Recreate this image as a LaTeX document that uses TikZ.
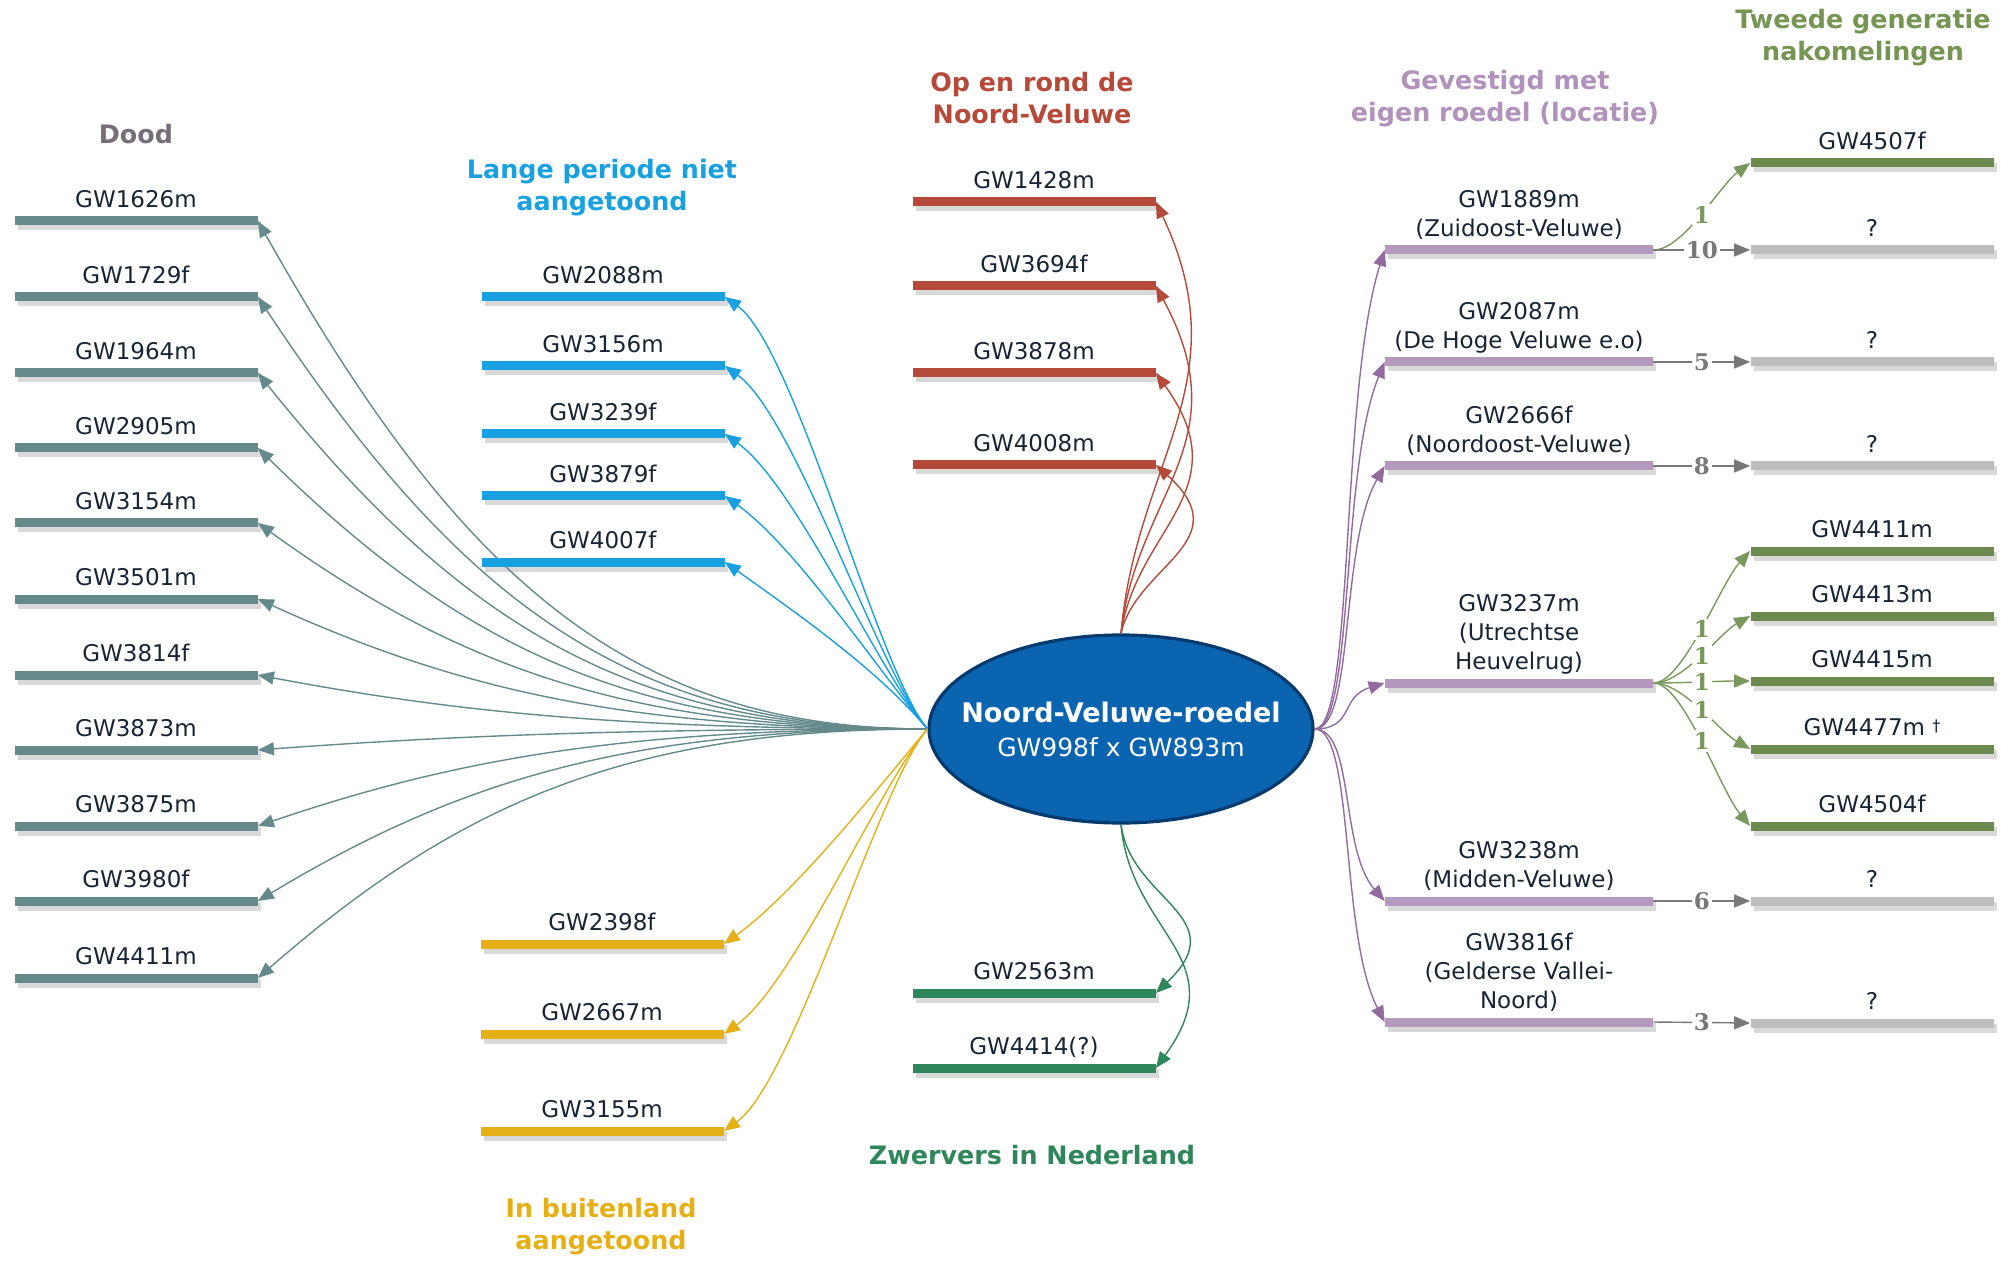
\documentclass[tikz,border=0pt]{standalone}
\usepackage{fontspec}
\setmainfont{DejaVu Sans}
\newfontfamily\cijfer{DejaVu Serif}
\usetikzlibrary{positioning,arrows.meta,shapes.geometric,shadows}

\definecolor{doodc}{RGB}{100,138,140}
\definecolor{doodh}{RGB}{118,110,120}
\definecolor{langc}{RGB}{24,160,224}
\definecolor{rondc}{RGB}{182,74,58}
\definecolor{buitc}{RGB}{228,176,22}
\definecolor{zwerc}{RGB}{46,134,90}
\definecolor{roedc}{RGB}{180,152,190}
\definecolor{roedh}{RGB}{176,146,186}
\definecolor{roedl}{RGB}{146,108,158}
\definecolor{nakoc}{RGB}{108,138,78}
\definecolor{nakoh}{RGB}{118,148,82}
\definecolor{nakol}{RGB}{122,152,92}
\definecolor{onbc}{RGB}{190,190,190}
\definecolor{onbl}{RGB}{120,120,120}
\definecolor{tekstc}{RGB}{22,36,52}
\definecolor{kernc}{RGB}{10,100,176}
\definecolor{kernr}{RGB}{6,58,108}

\tikzset{
  bar/.style={rectangle,inner sep=0pt,minimum width=121.5pt,minimum height=4.5pt,fill=#1,
    drop shadow={shadow xshift=1.5pt,shadow yshift=-2.5pt,opacity=.3}},
  lbl/.style={inner sep=0pt,text depth=0pt,align=center,text=tekstc,font=\fontsize{11.5}{14.5}\selectfont},
  kop/.style={inner sep=0pt,align=center,text=#1,font=\bfseries\fontsize{12.7}{16}\selectfont},
  tak/.style={draw=#1,line width=.7pt,-{Triangle[length=8pt,width=6.5pt]}},
  getal/.style={fill=white,inner sep=1pt,text=#1,font=\cijfer\bfseries\fontsize{11.5}{11.5}\selectfont}
}

\begin{document}
\begin{tikzpicture}[x=0.5pt,y=-0.5pt]
\useasboundingbox (0,0) rectangle (2001,1261);

\node[ellipse,minimum width=192pt,minimum height=94pt,inner sep=0pt,fill=kernc,draw=kernr,line width=1.6pt] (kern) at (1121,729) {};
\node[text=white,align=center,font=\fontsize{12.5}{17}\selectfont] (kernt) at (kern.center)
  {{\bfseries\fontsize{13.5}{17}\selectfont Noord-Veluwe-roedel}\\GW998f x GW893m};

\node[kop=doodh] (hdood) at (136,134) {Dood};
\node[kop=langc] (hlang) at (602,188) {Lange periode niet\\aangetoond};
\node[kop=rondc] (hrond) at (1032,98) {Op en rond de\\Noord-Veluwe};
\node[kop=roedh] (hroed) at (1505,99) {Gevestigd met\\eigen roedel (locatie)};
\node[kop=nakoh] (hnako) at (1863,38) {Tweede generatie\\nakomelingen};
\node[kop=zwerc] (hzwer) at (1032,1155) {Zwervers in Nederland};
\node[kop=buitc] (hbuit) at (601,1227) {In buitenland\\aangetoond};

\foreach \n/\y/\t in {d1/221/GW1626m,d2/297/GW1729f,d3/373/GW1964m,d4/448/GW2905m,d5/523/GW3154m,
  d6/599/GW3501m,d7/675/GW3814f,d8/750/GW3873m,d9/826/GW3875m,d10/901/GW3980f,d11/978/GW4411m}{
  \node[bar=doodc] (\n) at (136,\y) {};
  \node[lbl,above=4pt of \n] (t\n) {\t};
  \pgfmathsetmacro\dy{0.7*(729-\y)}
  \draw[tak=doodc] (kern.west) .. controls +(-300,0) and +(200,\dy) .. (\n.east);
}

\foreach \n/\y/\t in {b1/297/GW2088m,b2/366/GW3156m,b3/434/GW3239f,b4/496/GW3879f,b5/562/GW4007f}{
  \node[bar=langc] (\n) at (603,\y) {};
  \node[lbl,above=4pt of \n] (t\n) {\t};
  \draw[tak=langc] (kern.west) .. controls +(-50,-60) and +(70,50) .. (\n.east);
}

\foreach \n/\y/\t in {g1/944/GW2398f,g2/1034/GW2667m,g3/1131/GW3155m}{
  \node[bar=buitc] (\n) at (602,\y) {};
  \node[lbl,above=4pt of \n] (t\n) {\t};
  \draw[tak=buitc] (kern.west) .. controls +(-50,60) and +(70,-50) .. (\n.east);
}

\foreach \n/\y/\t in {r1/202/GW1428m,r2/286/GW3694f,r3/373/GW3878m,r4/465/GW4008m}{
  \node[bar=rondc] (\n) at (1034,\y) {};
  \node[lbl,above=4pt of \n] (t\n) {\t};
  \pgfmathsetmacro\ua{-0.4*(635-\y)}
  \pgfmathsetmacro\ub{min(0.45*(635-\y),180)}
  \draw[tak=rondc] (kern.north) .. controls +(15,\ua) and +(85,\ub) .. (\n.east);
}

\foreach \n/\y/\t in {z1/993/GW2563m,z2/1068/{GW4414(?)}}{
  \node[bar=zwerc] (\n) at (1034,\y) {};
  \node[lbl,above=4pt of \n] (t\n) {\t};
  \pgfmathsetmacro\ua{0.45*(\y-823)}
  \draw[tak=zwerc] (kern.south) .. controls +(10,\ua) and +(80,-\ua) .. (\n.east);
}

\foreach \n/\y/\t in {p1/250/{GW1889m\\(Zuidoost-Veluwe)},p2/362/{GW2087m\\(De Hoge Veluwe e.o)},
  p3/466/{GW2666f\\(Noordoost-Veluwe)},p4/683/{GW3237m\\(Utrechtse\\Heuvelrug)},
  p5/901/{GW3238m\\(Midden-Veluwe)},p6/1022/{GW3816f\\(Gelderse Vallei-\\Noord)}}{
  \node[bar=roedc,minimum width=134pt] (\n) at (1519,\y) {};
  \node[lbl,above=4pt of \n] (t\n) {\t};
  \pgfmathsetmacro\ub{0.3*(729-\y)}
  \draw[tak=roedl] (kern.east) .. controls +(40,0) and +(-45,\ub) .. (\n.west);
}

\foreach \n/\y/\c/\t in {k1/163/nakoc/GW4507f,k2/250/onbc/?,k3/362/onbc/?,k4/466/onbc/?,
  k5/551/nakoc/GW4411m,k6/616/nakoc/GW4413m,k7/681/nakoc/GW4415m,
  k8/749/nakoc/{GW4477m \raisebox{2pt}{\fontsize{8}{8}\selectfont†}},k9/826/nakoc/GW4504f,
  k10/901/onbc/?,k11/1023/onbc/?}{
  \node[bar=\c] (\n) at (1872,\y) {};
  \node[lbl,above=4pt of \n] (t\n) {\t};
}

\foreach \a/\b/\d in {p1/k1/22,p4/k5/33,p4/k6/17,p4/k7/0,p4/k8/-17,p4/k9/-36}
  \draw[tak=nakol] (\a.east) .. controls +(30,0) and +(-30,\d) .. (\b.west) node[midway,getal=nakol] {1};

\foreach \a/\b/\t in {p1/k2/10,p2/k3/5,p3/k4/8,p5/k10/6,p6/k11/3}
  \draw[tak=onbl] (\a.east) -- (\b.west) node[midway,getal=onbl] {\t};

\end{tikzpicture}
\end{document}
